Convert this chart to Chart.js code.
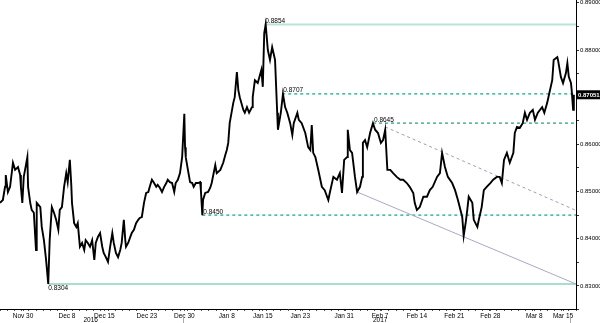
<!DOCTYPE html>
<html>
<head>
<meta charset="utf-8">
<script src="https://cdn.jsdelivr.net/npm/chart.js@4.4.1/dist/chart.umd.min.js"></script>
<style>
  html, body { margin: 0; padding: 0; background: #fff; }
</style>
</head>
<body>
<canvas id="chart" width="600" height="323"></canvas>
<script>
// trading days counted from the first bar on the chart
const days = [
  0.0, 0.4, 0.7, 0.8, 1.1, 1.4, 1.8, 2.1, 2.2, 2.5,
  2.8, 2.9, 3.1, 3.3, 3.6, 3.8, 3.9, 4.2, 4.4, 4.7,
  5.0, 5.1, 5.6, 5.8, 6.1, 6.4, 6.7, 6.9, 7.2, 7.5,
  7.8, 8.1, 8.3, 8.6, 8.9, 9.2, 9.4, 9.7, 9.9, 10.0,
  10.3, 10.6, 10.8, 11.1, 11.4, 11.7, 11.9, 12.2, 12.5, 12.8,
  13.1, 13.3, 13.6, 13.9, 14.2, 14.4, 14.7, 15.0, 15.3, 15.6,
  15.8, 16.1, 16.4, 16.7, 16.9, 17.2, 17.4, 17.5, 17.8, 18.1,
  18.3, 18.6, 18.9, 19.2, 19.4, 19.7, 20.0, 20.3, 20.6, 20.8,
  21.1, 21.4, 21.7, 21.9, 22.2, 22.5, 22.8, 23.1, 23.3, 23.6,
  23.9, 24.2, 24.4, 24.7, 25.0, 25.3, 25.6, 25.7, 25.8, 26.1,
  26.4, 26.7, 26.9, 27.2, 27.5, 27.8, 27.9, 28.1, 28.2, 28.5,
  28.9, 29.2, 29.4, 29.9, 30.1, 30.6, 31.0, 31.3, 31.5, 31.7,
  31.9, 32.4, 32.6, 32.9, 33.1, 33.3, 33.8, 34.0, 34.3, 34.6,
  35.0, 35.1, 35.4, 35.8, 36.3, 36.5, 36.7, 36.9, 37.2, 37.5,
  37.8, 37.9, 38.2, 38.5, 38.6, 39.0, 39.3, 39.6, 39.9, 40.3,
  40.6, 40.8, 41.3, 41.5, 41.9, 42.4, 42.8, 43.1, 43.3, 43.5,
  43.8, 44.2, 44.7, 45.1, 45.6, 45.8, 46.3, 46.8, 47.2, 47.5,
  47.8, 48.2, 48.3, 48.6, 48.9, 49.3, 49.6, 50.0, 50.3, 50.4,
  50.7, 51.0, 51.4, 51.8, 52.1, 52.5, 52.9, 53.2, 53.5, 53.8,
  54.2, 54.6, 55.1, 55.6, 56.0, 56.5, 56.9, 57.4, 57.6, 57.9,
  58.3, 58.8, 59.3, 59.7, 60.1, 60.7, 61.1, 61.4, 61.8, 62.2,
  62.8, 63.2, 63.6, 64.2, 64.4, 64.7, 64.9, 65.1, 65.6, 65.8,
  66.3, 66.5, 66.9, 67.2, 67.6, 68.1, 68.5, 69.0, 69.4, 69.7,
  70.0, 70.4, 70.8, 71.3, 71.5, 71.8, 72.2, 72.6, 72.9, 73.2,
  73.6, 74.0, 74.3, 74.7, 75.3, 75.6, 76.0, 76.3, 76.7, 76.9,
  77.4, 77.5, 77.9, 78.2, 78.6, 78.8, 79.0, 79.3, 79.4, 79.6,
  79.7
];

const prices = [
  0.8476, 0.8482, 0.8510, 0.8535, 0.8499, 0.8510, 0.8561, 0.8546, 0.8546, 0.8552,
  0.8535, 0.8510, 0.8476, 0.8531, 0.8556, 0.8573, 0.8510, 0.8476, 0.8461, 0.8455,
  0.8376, 0.8476, 0.8467, 0.8425, 0.8397, 0.8355, 0.8304, 0.8397, 0.8467, 0.8455,
  0.8440, 0.8419, 0.8461, 0.8467, 0.8510, 0.8539, 0.8520, 0.8567, 0.8514, 0.8476,
  0.8433, 0.8425, 0.8433, 0.8383, 0.8391, 0.8376, 0.8397, 0.8391, 0.8383, 0.8397,
  0.8355, 0.8391, 0.8404, 0.8412, 0.8383, 0.8370, 0.8361, 0.8351, 0.8383, 0.8412,
  0.8391, 0.8370, 0.8361, 0.8376, 0.8391, 0.8440, 0.8397, 0.8383, 0.8391, 0.8404,
  0.8412, 0.8419, 0.8433, 0.8440, 0.8444, 0.8446, 0.8476, 0.8497, 0.8499, 0.8510,
  0.8525, 0.8518, 0.8510, 0.8514, 0.8508, 0.8499, 0.8510, 0.8518, 0.8525, 0.8520,
  0.8518, 0.8499, 0.8518, 0.8525, 0.8539, 0.8573, 0.8665, 0.8594, 0.8573, 0.8546,
  0.8520, 0.8518, 0.8510, 0.8518, 0.8518, 0.8520, 0.8503, 0.8450, 0.8482, 0.8497,
  0.8499, 0.8508, 0.8518, 0.8556, 0.8539, 0.8546, 0.8561, 0.8578, 0.8588, 0.8603,
  0.8645, 0.8688, 0.8700, 0.8753, 0.8715, 0.8700, 0.8673, 0.8667, 0.8679, 0.8667,
  0.8679, 0.8700, 0.8736, 0.8730, 0.8758, 0.8722, 0.8836, 0.8854, 0.8800, 0.8779,
  0.8806, 0.8806, 0.8779, 0.8667, 0.8631, 0.8667, 0.8707, 0.8679, 0.8667, 0.8645,
  0.8620, 0.8645, 0.8667, 0.8652, 0.8645, 0.8624, 0.8594, 0.8588, 0.8641, 0.8582,
  0.8573, 0.8546, 0.8510, 0.8503, 0.8482, 0.8497, 0.8531, 0.8525, 0.8539, 0.8497,
  0.8567, 0.8573, 0.8631, 0.8588, 0.8582, 0.8531, 0.8499, 0.8510, 0.8531, 0.8603,
  0.8609, 0.8594, 0.8624, 0.8645, 0.8631, 0.8624, 0.8603, 0.8609, 0.8631, 0.8546,
  0.8546, 0.8539, 0.8531, 0.8525, 0.8525, 0.8518, 0.8510, 0.8497, 0.8476, 0.8461,
  0.8467, 0.8489, 0.8489, 0.8503, 0.8510, 0.8531, 0.8539, 0.8582, 0.8552, 0.8531,
  0.8518, 0.8503, 0.8482, 0.8446, 0.8406, 0.8436, 0.8461, 0.8489, 0.8476, 0.8440,
  0.8425, 0.8440, 0.8467, 0.8503, 0.8510, 0.8518, 0.8525, 0.8531, 0.8531, 0.8518,
  0.8567, 0.8582, 0.8561, 0.8582, 0.8624, 0.8637, 0.8635, 0.8645, 0.8667, 0.8652,
  0.8667, 0.8673, 0.8652, 0.8667, 0.8679, 0.8667, 0.8688, 0.8709, 0.8736, 0.8779,
  0.8785, 0.8779, 0.8743, 0.8730, 0.8751, 0.8772, 0.8743, 0.8730, 0.8715, 0.8673,
  0.87051
];

const tickDays = [3.2, 9.3, 14.5, 20.4, 25.6, 31.5, 36.5, 41.7, 47.8, 52.8, 57.9, 63.1, 68.1, 74.2, 78.2];
const tickLabels = ['Nov 30', 'Dec 8', 'Dec 15', 'Dec 23', 'Dec 30', 'Jan 8', 'Jan 15', 'Jan 23',
  'Jan 31', 'Feb 7', 'Feb 14', 'Feb 21', 'Feb 28', 'Mar 8', 'Mar 15'];
const yearDays = [12.6, 52.8];
const yearLabels = ['2016', '2017'];
const breakDays = [25.4, 79.2];

// horizontal support / resistance levels
const levelValues = [0.8854, 0.8707, 0.8645, 0.8450, 0.8304];
const levelStarts = [36.7, 39.2, 51.8, 28.1, 6.7];
const levelDashed = [false, true, true, true, false];

// trend lines
const supportDays = [49.6, 80];
const supportPrices = [0.8499, 0.8304];
const resistDays = [53.5, 80];
const resistPrices = [0.8637, 0.8460];

const lastPrice = prices[prices.length - 1];
const font = '"Liberation Sans", Arial, sans-serif';

const datasets = [{
  data: days.map((d, i) => ({ x: d, y: prices[i] })),
  borderColor: '#000',
  borderWidth: 1.9,
  pointRadius: 0,
  tension: 0,
  order: 0
}];

levelValues.forEach((v, i) => {
  const top = i === 0;
  datasets.push({
    data: [{ x: levelStarts[i], y: v }, { x: 80, y: v }],
    borderColor: levelDashed[i] ? '#3db498' : (top ? '#b9e4d7' : '#8ed2bf'),
    borderWidth: levelDashed[i] ? 1.5 : (top ? 2 : 1.3),
    borderDash: levelDashed[i] ? [3, 3] : [],
    pointRadius: 0,
    order: 2
  });
});

datasets.push({
  data: supportDays.map((d, i) => ({ x: d, y: supportPrices[i] })),
  borderColor: '#a9a9c4',
  borderWidth: 1,
  pointRadius: 0,
  order: 1
});
datasets.push({
  data: resistDays.map((d, i) => ({ x: d, y: resistPrices[i] })),
  borderColor: '#9c9cbc',
  borderWidth: 1,
  borderDash: [3, 3],
  pointRadius: 0,
  order: 1
});

const annotate = {
  id: 'annotate',
  afterDatasetsDraw(chart) {
    const { ctx, scales: { x, y } } = chart;
    const lowest = Math.min(...levelValues);
    ctx.save();
    ctx.font = '6.5px ' + font;
    ctx.fillStyle = '#000';
    ctx.textAlign = 'left';
    levelValues.forEach((v, i) => {
      const px = x.getPixelForValue(levelStarts[i]);
      const py = y.getPixelForValue(v);
      if (v === lowest) {
        ctx.textBaseline = 'top';
        ctx.fillText(v.toFixed(4), px, py + 1);
      } else {
        ctx.textBaseline = 'bottom';
        ctx.fillText(v.toFixed(4), px + 1, py);
      }
    });
    ctx.restore();
  },
  afterDraw(chart) {
    const { ctx, chartArea, scales: { x, y } } = chart;
    ctx.save();
    // last price tag
    const py = y.getPixelForValue(lastPrice);
    ctx.fillStyle = '#000';
    ctx.fillRect(chartArea.right + 1, py - 4.5, 23, 9);
    ctx.fillStyle = '#fff';
    ctx.font = 'bold 6px ' + font;
    ctx.textBaseline = 'middle';
    ctx.textAlign = 'left';
    ctx.fillText(lastPrice.toFixed(5), chartArea.right + 2, py + 0.5);
    // year labels
    ctx.fillStyle = '#000';
    ctx.font = '6.5px ' + font;
    ctx.textAlign = 'center';
    yearDays.forEach((d, i) => {
      ctx.fillText(yearLabels[i], x.getPixelForValue(d), chartArea.bottom + 11);
    });
    // period breaks under the axis
    ctx.strokeStyle = '#aaa';
    ctx.lineWidth = 1;
    breakDays.forEach(d => {
      const px = Math.round(x.getPixelForValue(d)) + 0.5;
      ctx.beginPath();
      ctx.moveTo(px, chartArea.bottom + 6);
      ctx.lineTo(px, chartArea.bottom + 14);
      ctx.stroke();
    });
    ctx.restore();
  }
};

new Chart(document.getElementById('chart'), {
  type: 'line',
  data: { datasets },
  options: {
    responsive: false,
    animation: false,
    layout: { padding: 0 },
    plugins: { legend: { display: false }, tooltip: { enabled: false } },
    scales: {
      x: {
        type: 'linear',
        min: 0,
        max: 80,
        afterBuildTicks(s) {
          const t = [];
          for (let d = 0; d <= 80; d++) t.push({ value: d });
          tickDays.forEach(v => t.push({ value: v }));
          t.sort((a, b) => a.value - b.value);
          s.ticks = t;
        },
        afterFit(s) {
          s.height = 14;
          s.paddingLeft = 0;
          s.paddingRight = 0;
        },
        ticks: {
          autoSkip: false,
          maxRotation: 0,
          minRotation: 0,
          padding: 1,
          color: '#000',
          font: { family: font, size: 6.5 },
          callback: v => {
            const i = tickDays.indexOf(v);
            return i >= 0 ? tickLabels[i] : '';
          }
        },
        grid: { drawOnChartArea: false, drawTicks: true, tickLength: 2, color: '#555' },
        border: { display: true, color: '#000', width: 1 }
      },
      y: {
        type: 'linear',
        position: 'right',
        min: 0.8251,
        max: 0.8906,
        afterBuildTicks(s) {
          const t = [];
          for (let k = 165; k <= 178; k++) t.push({ value: k * 0.005 });
          s.ticks = t;
        },
        afterFit(s) {
          s.width = 24;
          s.paddingTop = 0;
          s.paddingBottom = 0;
        },
        ticks: {
          padding: 1,
          color: '#000',
          font: { family: font, size: 6 },
          callback: v => (Math.round(v * 1000) % 10 === 0 ? v.toFixed(5) : '')
        },
        grid: { drawOnChartArea: false, drawTicks: true, tickLength: 3, color: '#333' },
        border: { display: true, color: '#000', width: 1 }
      }
    }
  },
  plugins: [annotate]
});
</script>
</body>
</html>
